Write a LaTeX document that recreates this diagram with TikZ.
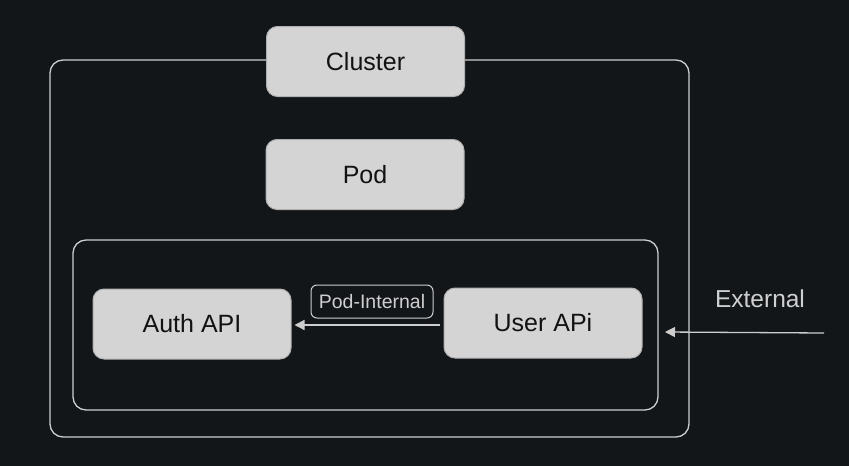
\documentclass[tikz,border=0pt]{standalone}
\usepackage{fontspec}
\setmainfont{Liberation Sans}
\usetikzlibrary{arrows.meta}
\definecolor{bg}{HTML}{131619}
\definecolor{boxfill}{HTML}{D4D4D4}
\definecolor{boxline}{HTML}{B0B0B0}
\definecolor{linec}{HTML}{CDCDCD}
\definecolor{txt}{HTML}{121212}
\definecolor{ltxt}{HTML}{CFCFCF}
\tikzset{
  boxnode/.style={draw=boxline, line width=1pt, fill=boxfill, rounded corners=11pt,
    minimum width=198pt, minimum height=70pt, inner sep=0pt, text=txt,
    font=\fontsize{25}{29}\selectfont},
  frame/.style={draw=linec, line width=1.3pt, rounded corners=13pt},
  conn/.style={draw=linec, line width=1.3pt, -{Triangle[length=10pt,width=10pt,fill=linec]}},
  lbl/.style={text=ltxt, font=\fontsize{24.5}{28}\selectfont, inner sep=0pt}
}
\begin{document}
\begin{tikzpicture}[x=1pt,y=-1pt]
\fill[bg] (0,0) rectangle (849,466);
\useasboundingbox (0,0) rectangle (849,466);
% outer cluster frame
\draw[frame] (50,60) rectangle (689,437);
% inner pod frame
\draw[frame] (73,240) rectangle (658,410);
\node[boxnode] (cluster) at (365.5,61.5) {Cluster};
\node[boxnode] (pod) at (365,174.5) {Pod};
\node[boxnode] (auth) at (192,324) {Auth API};
\node[boxnode] (user) at (543,323) {User APi};
\node[draw=linec, line width=1pt, rounded corners=6pt, minimum width=122pt, minimum height=33pt,
  inner sep=0pt, text=ltxt, font=\fontsize{19.5}{23}\selectfont] (pint) at (372,301.5) {Pod-Internal};
\coordinate (ustart) at ([xshift=-4pt]user.west |- 0,325);
\coordinate (uend) at ([xshift=3pt]auth.east |- 0,325);
\draw[conn] (ustart) -- (uend);
\coordinate (extstart) at (824,333);
\coordinate (extend) at (665,332);
\draw[conn] (extstart) -- (extend);
\node[lbl] (ext) at (760,299) {External};
\end{tikzpicture}
\end{document}
